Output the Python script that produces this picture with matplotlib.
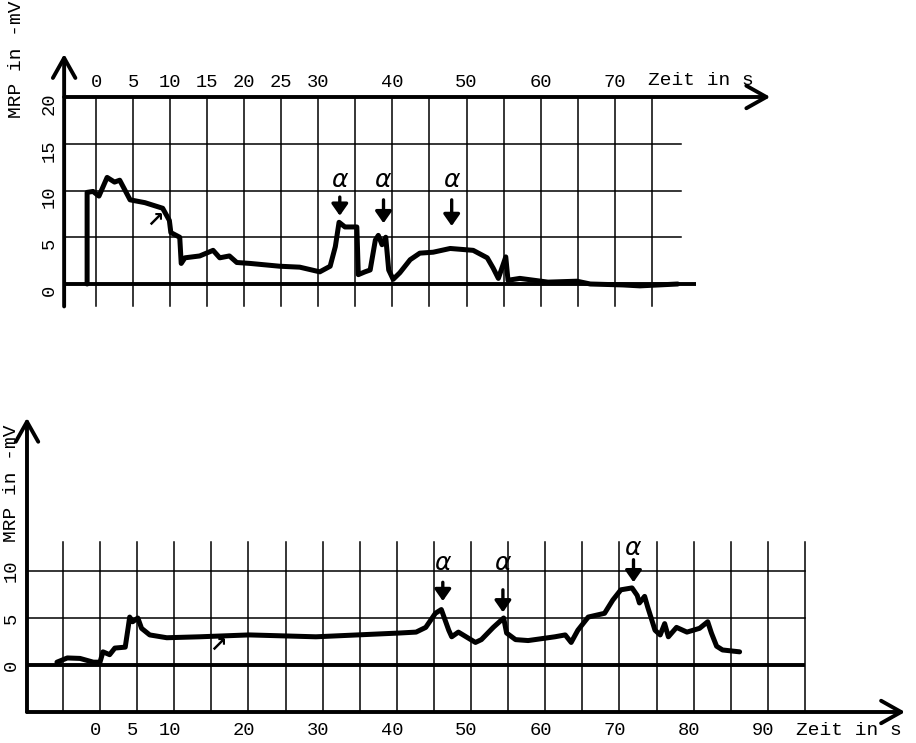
import numpy as np
import matplotlib
matplotlib.use("Agg")
import matplotlib.pyplot as plt

plt.rcParams['font.family'] = ['Liberation Mono', 'DejaVu Sans Mono']

# --- data (time in s, MRP in -mV) ---
top_t = [-1.2, -1.2, -0.4, 0.4, 1.5, 2.5, 3.2, 4.6, 6.6, 9.0, 9.9, 10.1, 11.3, 11.5, 12.0,
         14.0, 15.8, 16.7, 18.0, 19.0, 20.8, 24.8, 27.5, 30.2, 31.6, 32.3, 32.8, 33.6, 35.2,
         35.4, 36.3, 37.0, 37.7, 38.1, 38.6, 39.1, 39.5, 40.1, 41.0, 42.4, 43.7, 45.5, 47.8,
         50.9, 52.8, 53.6, 54.3, 55.3, 55.6, 57.2, 61.0, 64.9, 66.7, 71.1, 73.4, 78.5]
top_v = [0.0, 9.8, 9.9, 9.4, 11.4, 10.9, 11.1, 9.0, 8.7, 8.1, 6.8, 5.5, 5.0, 2.2, 2.8,
         3.0, 3.6, 2.8, 3.0, 2.3, 2.2, 1.9, 1.8, 1.3, 1.9, 4.0, 6.6, 6.1, 6.1,
         1.0, 1.3, 1.5, 4.7, 5.2, 4.2, 5.0, 1.5, 0.5, 1.2, 2.6, 3.3, 3.4, 3.8,
         3.6, 2.8, 1.7, 0.6, 2.9, 0.4, 0.6, 0.2, 0.3, 0.0, -0.1, -0.2, 0.0]

bot_t = [-5.8, -4.4, -2.7, -0.9, 0.0, 0.4, 1.3, 2.0, 3.4, 3.8, 4.0, 4.4, 5.1, 5.6, 6.7, 9.0,
         13.4, 20.1, 29.1, 40.3, 42.6, 43.9, 45.2, 46.0, 47.0, 47.4, 48.3, 50.6, 51.4, 53.0,
         54.4, 54.8, 56.0, 57.7, 61.3, 62.7, 63.5, 64.4, 65.8, 68.0, 69.1, 70.2, 71.7, 72.4,
         72.7, 73.4, 73.8, 74.8, 75.5, 76.1, 76.6, 77.7, 79.1, 80.8, 81.9, 82.4, 83.1, 83.9, 86.2]
bot_v = [0.3, 0.75, 0.7, 0.3, 0.3, 1.4, 1.1, 1.8, 1.9, 4.0, 5.1, 4.6, 5.0, 3.9, 3.2, 2.9,
         3.0, 3.2, 3.0, 3.4, 3.5, 4.0, 5.5, 5.9, 3.7, 3.0, 3.5, 2.4, 2.7, 4.0,
         5.0, 3.4, 2.7, 2.6, 3.0, 3.2, 2.4, 3.7, 5.1, 5.5, 6.9, 8.0, 8.2, 7.4,
         6.6, 7.3, 6.2, 3.7, 3.2, 4.4, 3.0, 4.0, 3.5, 3.9, 4.6, 3.4, 2.0, 1.6, 1.4]

top_xticks = [0, 5, 10, 15, 20, 25, 30, 40, 50, 60, 70]
top_yticks = [0, 5, 10, 15, 20]
bot_xticks = [0, 5, 10, 20, 30, 40, 50, 60, 70, 80, 90]
bot_yticks = [0, 5, 10]

# alpha markers: time, label level, arrow start, arrow end
top_alpha_t = [32.9, 38.8, 48.0]
top_alpha_from = [9.3, 9.0, 9.0]
top_alpha_to = [7.3, 6.5, 6.2]
bot_alpha_t = [46.2, 54.3, 71.9]
bot_alpha_lab = [10.9, 10.9, 12.4]
bot_alpha_from = [8.8, 8.0, 11.2]
bot_alpha_to = [6.8, 5.6, 8.8]

Y_LABEL = "MRP in -mV"
X_LABEL = "Zeit in s"

fig = plt.figure(figsize=(9.16, 7.43), dpi=100)
H = 743.0

ax1 = fig.add_axes([0, 1 - 380 / H, 1, 380 / H])
ax1.set_xlim(-96 / 7.41, (916 - 96) / 7.41)
ax1.set_ylim((284 - 380) / 9.35, 284 / 9.35)
ax1.axis('off')

ax2 = fig.add_axes([0, 0, 1, 363 / H])
ax2.set_xlim(-100 / 7.42, (916 - 100) / 7.42)
ax2.set_ylim((665 - 743) / 9.4, (665 - 380) / 9.4)
ax2.axis('off')

thin = dict(color='black', lw=1.1, clip_on=False)
thick = dict(color='black', lw=2.8, clip_on=False, solid_capstyle='butt')
curve = dict(color='black', lw=3.6, solid_joinstyle='round', solid_capstyle='round', clip_on=False)
tick_fs = 13.5
lab_fs = 14


def arrow(ax, start, end):
    ax.annotate('', xy=end, xytext=start,
                arrowprops=dict(arrowstyle='->,head_length=0.8,head_width=0.45',
                                lw=2.8, color='black', mutation_scale=18,
                                shrinkA=0, shrinkB=0), annotation_clip=False)


def alpha_mark(ax, t, lab, a0, a1):
    ax.text(t, lab, r'$\alpha$', fontsize=18, ha='center', va='center')
    ax.annotate('', xy=(t, a1), xytext=(t, a0),
                arrowprops=dict(arrowstyle='-|>,head_length=0.5,head_width=0.35',
                                lw=2.4, color='black', mutation_scale=14,
                                shrinkA=0, shrinkB=0), annotation_clip=False)


# ---------------- top panel ----------------
y0_t = -4.3
for t in range(0, 80, 5):
    ax1.plot([t, t], [-2.3, 20], **thin)
for v in [5, 10, 15]:
    ax1.plot([y0_t, 79], [v, v], **thin)
ax1.plot([y0_t, 81], [0, 0], **thick)
arrow(ax1, (y0_t, 20), (91, 20))
arrow(ax1, (y0_t, -2.4), (y0_t, 24.6))

ax1.plot(top_t, top_v, **curve)

for t in top_xticks:
    ax1.text(t, 21.5, str(t), fontsize=tick_fs, ha='center', va='center')
for v in top_yticks:
    ax1.text(-6.3, v - 0.7, str(v), fontsize=tick_fs, ha='center', va='center', rotation=90)
ax1.text(-10.7, 24.0, Y_LABEL, fontsize=lab_fs, ha='center', va='center', rotation=90)
ax1.text(74.5, 21.8, X_LABEL, fontsize=lab_fs, ha='left', va='center')

for t, a0, a1 in zip(top_alpha_t, top_alpha_from, top_alpha_to):
    alpha_mark(ax1, t, 11.1, a0, a1)
ax1.text(8.0, 6.8, '↗', fontsize=15, ha='center', va='center', family='DejaVu Sans',
         fontweight='bold')

# ---------------- bottom panel ----------------
y0_b = -9.84
for t in range(-5, 100, 5):
    ax2.plot([t, t], [-5, 13.1], **thin)
for v in [5, 10]:
    ax2.plot([y0_b, 95], [v, v], **thin)
ax2.plot([y0_b, 95], [0, 0], **thick)
arrow(ax2, (y0_b, -5), (108.5, -5))
arrow(ax2, (y0_b, -5), (y0_b, 26.3))

ax2.plot(bot_t, bot_v, **curve)

for t in bot_xticks:
    ax2.text(t - 0.6, -7.0, str(t), fontsize=tick_fs, ha='center', va='center')
for v in bot_yticks:
    ax2.text(-12.0, v, str(v), fontsize=tick_fs, ha='center', va='center', rotation=90)
ax2.text(-11.9, 19.3, Y_LABEL, fontsize=lab_fs, ha='center', va='center', rotation=90)
ax2.text(93.8, -7.0, X_LABEL, fontsize=lab_fs, ha='left', va='center')

for t, lab, a0, a1 in zip(bot_alpha_t, bot_alpha_lab, bot_alpha_from, bot_alpha_to):
    alpha_mark(ax2, t, lab, a0, a1)
ax2.text(15.9, 2.0, '↗', fontsize=15, ha='center', va='center', family='DejaVu Sans',
         fontweight='bold')

fig.savefig('out.png', dpi=100)
